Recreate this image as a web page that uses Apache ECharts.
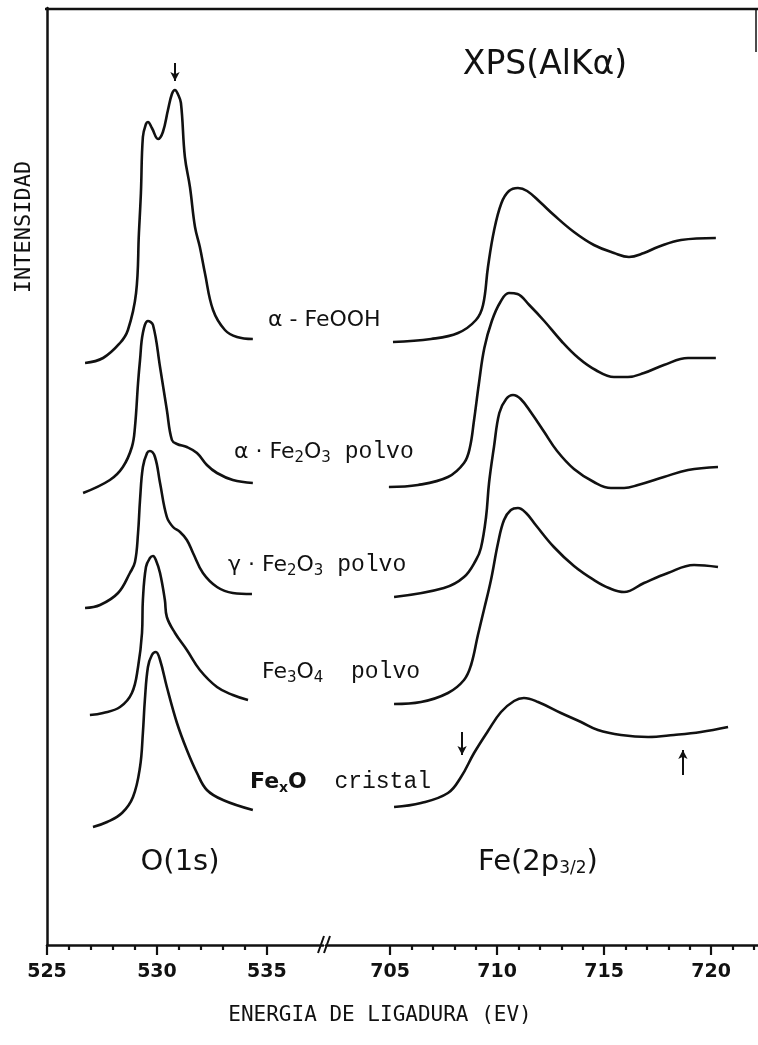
<!DOCTYPE html>
<html>
<head>
<meta charset="utf-8">
<script src="https://cdn.jsdelivr.net/npm/echarts@6/dist/echarts.min.js"></script>
<style>
  html, body { margin: 0; padding: 0; background: #fff; }
  #chart { width: 758px; height: 1045px; }
</style>
</head>
<body>
<div id="chart"></div>
<script>
// binding energy (eV), intensity (a.u., curves already offset as in the figure)
// O(1s) region
const o1sFeOOH = [[526.73, 582], [527.55, 587], [528.32, 602], [528.68, 615], [529.05, 652], [529.18, 712], [529.27, 752], [529.36, 808], [529.5, 821], [529.59, 823], [529.77, 817], [530.05, 806], [530.27, 813], [530.5, 835], [530.68, 851], [530.82, 855], [530.95, 851], [531.09, 842], [531.27, 788], [531.5, 758], [531.73, 718], [531.95, 698], [532.18, 672], [532.55, 635], [533.09, 615], [533.64, 608], [534.36, 606]]
const o1sAlfa = [[526.64, 452], [527.86, 465], [528.45, 478], [528.86, 498], [529.0, 518], [529.14, 562], [529.23, 585], [529.36, 612], [529.59, 624], [529.82, 620], [530.14, 578], [530.45, 535], [530.68, 505], [530.91, 501], [531.36, 498], [531.82, 492], [532.27, 480], [532.73, 472], [533.45, 465], [534.36, 462]]
const o1sGamma = [[526.73, 337], [527.41, 340], [528.23, 352], [528.77, 372], [529.0, 383], [529.14, 412], [529.23, 445], [529.36, 478], [529.55, 492], [529.68, 494], [529.91, 488], [530.14, 462], [530.45, 428], [530.73, 418], [531.05, 413], [531.36, 405], [531.64, 392], [532.09, 372], [532.73, 358], [533.45, 352], [534.32, 351]]
const o1sFe3O4 = [[526.95, 230], [527.55, 232], [528.32, 238], [528.86, 252], [529.14, 278], [529.32, 312], [529.36, 345], [529.5, 378], [529.68, 387], [529.82, 389], [529.95, 385], [530.14, 372], [530.36, 345], [530.45, 328], [530.82, 312], [531.36, 295], [531.95, 275], [532.73, 258], [533.45, 250], [534.14, 245]]
const o1sFeO = [[527.09, 118], [527.73, 123], [528.41, 132], [528.91, 148], [529.23, 178], [529.36, 212], [529.45, 245], [529.59, 278], [529.77, 290], [529.95, 293], [530.14, 285], [530.45, 258], [530.91, 222], [531.36, 195], [531.82, 172], [532.27, 155], [533.0, 145], [534.36, 135]]

// Fe(2p3/2) region
const fe2pFeOOH = [[705.13, 603], [706.91, 606], [708.17, 612], [709.01, 625], [709.34, 640], [709.57, 678], [709.85, 714], [710.2, 742], [710.55, 754], [710.97, 757], [711.4, 754], [712.0, 743], [712.65, 730], [713.59, 713], [714.52, 700], [715.46, 692], [716.16, 688], [716.86, 692], [717.51, 698], [718.59, 705], [720.22, 707]]
const fe2pAlfa = [[704.94, 458], [706.3, 460], [707.7, 468], [708.45, 482], [708.72, 497], [708.92, 525], [709.15, 562], [709.4, 597], [709.75, 624], [710.15, 643], [710.55, 652], [710.95, 651], [711.5, 640], [712.2, 624], [713.0, 604], [713.8, 587], [714.6, 575], [715.46, 568], [716.11, 568], [716.86, 572], [717.79, 580], [718.92, 587], [720.22, 587]]
const fe2pGamma = [[705.18, 348], [707.51, 357], [708.45, 368], [709.01, 385], [709.24, 397], [709.48, 428], [709.62, 462], [709.85, 498], [710.1, 532], [710.42, 546], [710.74, 550], [711.1, 546], [711.6, 532], [712.2, 513], [712.8, 494], [713.59, 476], [714.52, 463], [715.32, 457], [715.93, 457], [716.58, 460], [717.79, 468], [718.92, 475], [720.32, 478]]
const fe2pFe3O4 = [[705.18, 241], [706.44, 243], [707.7, 252], [708.45, 265], [708.78, 280], [709.1, 310], [709.38, 335], [709.71, 365], [710.04, 402], [710.32, 425], [710.64, 435], [710.97, 437], [711.35, 432], [711.8, 420], [712.65, 398], [713.59, 379], [714.52, 365], [715.22, 357], [715.93, 353], [716.86, 362], [717.98, 372], [719.2, 380], [720.32, 378]]
const fe2pFeO = [[705.18, 138], [706.44, 142], [707.7, 152], [708.31, 168], [708.92, 192], [709.57, 214], [710.18, 233], [710.79, 244], [711.25, 247], [711.91, 243], [712.98, 232], [713.92, 223], [714.71, 215], [715.79, 210], [717.05, 208], [718.26, 210], [719.52, 213], [720.79, 218]]

const o1sTicks = [525, 530, 535]
const o1sMinor = [526, 527, 528, 529, 531, 532, 533, 534]
const fe2pTicks = [705, 710, 715, 720]
const fe2pMinor = [706, 707, 708, 709, 711, 712, 713, 714, 716, 717, 718, 719, 721, 722]

// arrows marking peak positions: [energy, from, to]
const o1sArrow = [[530.82, 882, 864]]
const fe2pArrows = [[708.36, 213, 190], [718.68, 170, 195]]

const ink = '#111'
const sansFont = '"DejaVu Sans"'
const monoFont = '"Liberation Mono"'

const chart = echarts.init(document.getElementById('chart'), null, { renderer: 'canvas' })

function spectrum (data, idx, arrows) {
  const s = {
    type: 'line',
    data: data,
    xAxisIndex: idx,
    yAxisIndex: idx < 2 ? 0 : 1,
    showSymbol: false,
    smooth: 0.4,
    silent: true,
    lineStyle: { color: ink, width: 2.6 }
  }
  if (arrows) {
    s.markLine = {
      silent: true,
      symbol: ['none', 'arrow'],
      symbolSize: [7, 9],
      label: { show: false },
      lineStyle: { color: ink, width: 2, type: 'solid' },
      data: arrows.map(a => [{ coord: [a[0], a[1]] }, { coord: [a[0], a[2]] }])
    }
  }
  return s
}

function energyAxis (grid, min, max, ticks, minor) {
  return [{
    type: 'value',
    gridIndex: grid,
    position: 'bottom',
    min: min,
    max: max,
    axisLine: { show: true, onZero: false, lineStyle: { color: ink, width: 2.5 } },
    axisTick: { show: true, customValues: ticks, length: 10, lineStyle: { color: ink, width: 2.2 } },
    axisLabel: { show: true, customValues: ticks, margin: 18, color: ink, fontFamily: 'DejaVu Sans', fontWeight: 'bold', fontSize: 19 },
    splitLine: { show: false }
  }, {
    type: 'value',
    gridIndex: grid,
    position: 'bottom',
    min: min,
    max: max,
    axisLine: { show: false, onZero: false },
    axisTick: { show: true, customValues: minor, length: 5, lineStyle: { color: ink, width: 2.2 } },
    axisLabel: { show: false },
    splitLine: { show: false }
  }]
}

const sub = { font: '15px ' + sansFont, fill: ink, padding: [12, 0, 0, 0] }
const lab = { font: '22px ' + sansFont, fill: ink }
const word = { font: '23px ' + monoFont, fill: ink }

function sampleLabel (x, y, text, bold) {
  return {
    type: 'text', x: x, y: y,
    style: {
      text: text, align: 'left', verticalAlign: 'middle',
      rich: {
        s: bold ? Object.assign({}, lab, { font: 'bold 22px ' + sansFont }) : lab,
        b: bold ? Object.assign({}, sub, { font: 'bold 14px ' + sansFont }) : sub,
        m: word
      }
    }
  }
}

const option = {
  animation: false,
  backgroundColor: '#fff',
  grid: [
    { left: 47, width: 276, top: 8, bottom: 100 },
    { left: 326, right: 0, top: 8, bottom: 100 }
  ],
  xAxis: [
    ...energyAxis(0, 525, 537.55, o1sTicks, o1sMinor),
    ...energyAxis(1, 702, 722.19, fe2pTicks, fe2pMinor)
  ],
  yAxis: [{
    type: 'value',
    gridIndex: 0,
    min: 0,
    max: 937,
    axisLine: { show: true, lineStyle: { color: ink, width: 2.5 } },
    axisTick: { show: false },
    axisLabel: { show: false },
    splitLine: { show: false }
  }, {
    type: 'value',
    gridIndex: 1,
    min: 0,
    max: 937,
    show: false
  }],
  series: [
    spectrum(o1sFeOOH, 0, o1sArrow),
    spectrum(o1sAlfa, 0),
    spectrum(o1sGamma, 0),
    spectrum(o1sFe3O4, 0),
    spectrum(o1sFeO, 0),
    spectrum(fe2pFeOOH, 2),
    spectrum(fe2pAlfa, 2),
    spectrum(fe2pGamma, 2),
    spectrum(fe2pFe3O4, 2),
    spectrum(fe2pFeO, 2, fe2pArrows)
  ],
  graphic: [
    // frame: top edge and the short stub on the right
    { type: 'line', shape: { x1: 45, y1: 9, x2: 758, y2: 9 }, style: { stroke: ink, lineWidth: 2.5 } },
    { type: 'line', shape: { x1: 756, y1: 9, x2: 756, y2: 52 }, style: { stroke: ink, lineWidth: 1.5 } },
    // axis break
    { type: 'line', shape: { x1: 318, y1: 953, x2: 324, y2: 936 }, style: { stroke: ink, lineWidth: 2 } },
    { type: 'line', shape: { x1: 324, y1: 953, x2: 330, y2: 936 }, style: { stroke: ink, lineWidth: 2 } },
    {
      type: 'text', x: 545, y: 65,
      style: { text: 'XPS(AlKα)', font: '33px ' + sansFont, fill: ink, align: 'center', verticalAlign: 'middle' }
    },
    {
      type: 'text', x: 24, y: 227, rotation: Math.PI / 2,
      style: { text: 'INTENSIDAD', font: '22px "DejaVu Sans Mono"', fill: ink, align: 'center', verticalAlign: 'middle' }
    },
    {
      type: 'text', x: 380, y: 1016,
      style: { text: 'ENERGIA DE LIGADURA (EV)', font: '21px "DejaVu Sans Mono"', fill: ink, align: 'center', verticalAlign: 'middle' }
    },
    sampleLabel(268, 320, '{s|α - FeOOH}'),
    sampleLabel(234, 452, '{s|α · Fe}{b|2}{s|O}{b|3}{m| polvo}'),
    sampleLabel(228, 565, '{s|γ · Fe}{b|2}{s|O}{b|3}{m| polvo}'),
    sampleLabel(262, 672, '{s|Fe}{b|3}{s|O}{b|4}{m|  polvo}'),
    sampleLabel(250, 782, '{s|Fe}{b|x}{s|O}{m|  cristal}', true),
    {
      type: 'text', x: 180, y: 862,
      style: { text: 'O(1s)', font: '29px ' + sansFont, fill: ink, align: 'center', verticalAlign: 'middle' }
    },
    {
      type: 'text', x: 538, y: 862,
      style: {
        text: '{a|Fe(2p}{b|3/2}{a|)}', align: 'center', verticalAlign: 'middle',
        rich: {
          a: { font: '29px ' + sansFont, fill: ink, lineHeight: 36 },
          b: { font: '17px ' + sansFont, fill: ink, lineHeight: 36, padding: [14, 0, 0, 0] }
        }
      }
    }
  ]
}

chart.setOption(option)
</script>
</body>
</html>
